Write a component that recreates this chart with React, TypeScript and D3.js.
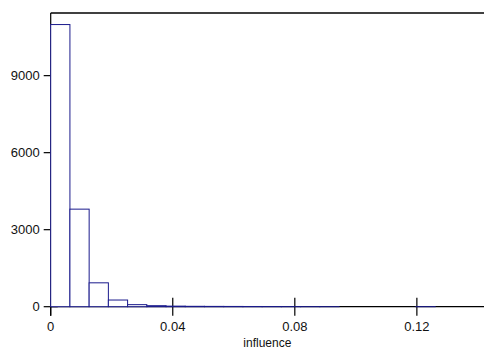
import * as d3 from 'd3';
import React from 'react';

// histogram of influence values, 20 bins of equal width
const binWidth = 0.0063;
const counts = [10990, 3800, 930, 260, 80, 40, 22, 15, 12, 10, 8, 6, 4, 3, 2, 0, 0, 0, 0, 2];
const xTicks = [0, 0.04, 0.08, 0.12];
const yTicks = [0, 3000, 6000, 9000];
const xLabel = 'influence';

const W = 484;
const H = 349;
const left = 50.7;
const top = 13;
const bottom = 306.7;

const App = () => {
  const x = d3.scaleLinear().domain([0, 0.142]).range([left, W]);
  const y = d3.scaleLinear().domain([0, 11440]).range([bottom, top]);
  const font = 'Arial, "Liberation Sans", sans-serif';

  return (
    <svg
      width={W}
      height={H}
      style={{ position: 'absolute', left: 0, top: 0, background: '#fff' }}
    >
      {/* frame: top line + axes */}
      <line x1={left} x2={W} y1={top} y2={top} stroke="#000" strokeWidth={1.3} />
      <line x1={left} x2={left} y1={top} y2={bottom + 9} stroke="#000" strokeWidth={1.2} />
      <line x1={left} x2={W} y1={bottom} y2={bottom} stroke="#000" strokeWidth={1.2} />

      {yTicks.map((t) => (
        <g key={'y' + t}>
          <line x1={left - 7} x2={left + 7} y1={y(t)} y2={y(t)} stroke="#000" strokeWidth={1.2} />
          <text
            x={left - 11}
            y={y(t)}
            dy="0.35em"
            textAnchor="end"
            fontFamily={font}
            fontSize={13}
            fill="#111"
          >
            {t}
          </text>
        </g>
      ))}

      {xTicks.map((t) => (
        <g key={'x' + t}>
          <line x1={x(t)} x2={x(t)} y1={bottom - 9} y2={bottom + 9} stroke="#000" strokeWidth={1.2} />
          <text
            x={x(t)}
            y={bottom + 20}
            dy="0.35em"
            textAnchor="middle"
            fontFamily={font}
            fontSize={13}
            fill="#111"
          >
            {t}
          </text>
        </g>
      ))}

      <text
        x={(left + W) / 2}
        y={bottom + 36}
        dy="0.35em"
        textAnchor="middle"
        fontFamily={font}
        fontSize={12}
        fill="#111"
      >
        {xLabel}
      </text>

      {counts.map((c, i) =>
        c > 0 ? (
          <rect
            key={i}
            x={x(i * binWidth)}
            y={y(c)}
            width={x((i + 1) * binWidth) - x(i * binWidth)}
            height={bottom - y(c)}
            fill="#fff"
            stroke="#1a1a8c"
            strokeWidth={1}
          />
        ) : null
      )}
    </svg>
  );
};

export default App;
